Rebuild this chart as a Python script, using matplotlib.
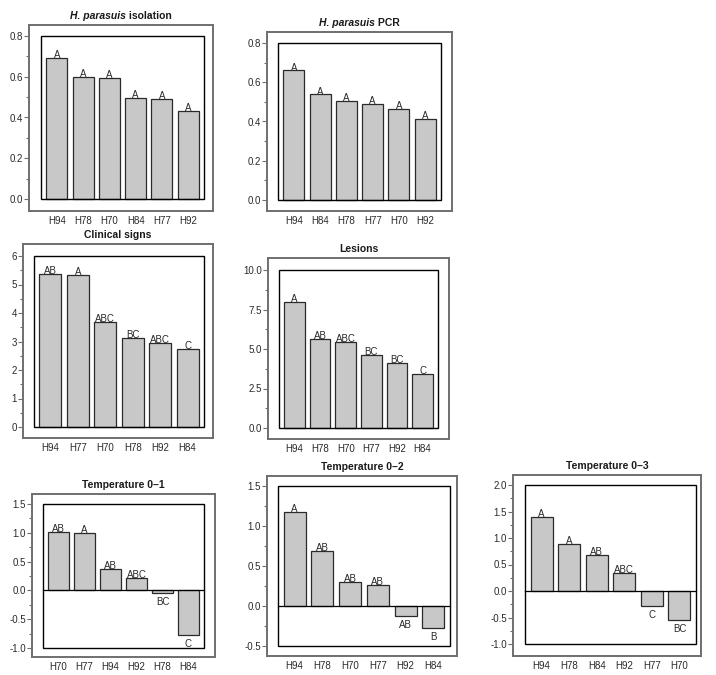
import matplotlib
matplotlib.use('Agg')
import matplotlib.pyplot as plt
from matplotlib.patches import Rectangle
from matplotlib.ticker import MultipleLocator, AutoMinorLocator
from matplotlib.offsetbox import TextArea, HPacker, AnchoredOffsetbox

plt.rcParams['font.family'] = ['Liberation Sans', 'DejaVu Sans']

# ---- data ----
iso_groups = ['H94', 'H78', 'H70', 'H84', 'H77', 'H92']
iso_vals = [0.693, 0.600, 0.592, 0.495, 0.492, 0.434]
iso_letters = ['A', 'A', 'A', 'A', 'A', 'A']

pcr_groups = ['H94', 'H84', 'H78', 'H77', 'H70', 'H92']
pcr_vals = [0.660, 0.538, 0.506, 0.490, 0.463, 0.412]
pcr_letters = ['A', 'A', 'A', 'A', 'A', 'A']

clin_groups = ['H94', 'H77', 'H70', 'H78', 'H92', 'H84']
clin_vals = [5.38, 5.35, 3.68, 3.13, 2.96, 2.73]
clin_letters = ['AB', 'A', 'ABC', 'BC', 'ABC', 'C']

les_groups = ['H94', 'H78', 'H70', 'H77', 'H92', 'H84']
les_vals = [7.96, 5.64, 5.43, 4.63, 4.13, 3.41]
les_letters = ['A', 'AB', 'ABC', 'BC', 'BC', 'C']

t01_groups = ['H70', 'H77', 'H94', 'H92', 'H78', 'H84']
t01_vals = [1.01, 1.005, 0.378, 0.221, -0.047, -0.767]
t01_letters = ['AB', 'A', 'AB', 'ABC', 'BC', 'C']

t02_groups = ['H94', 'H78', 'H70', 'H77', 'H92', 'H84']
t02_vals = [1.175, 0.683, 0.304, 0.263, -0.129, -0.271]
t02_letters = ['A', 'AB', 'AB', 'AB', 'AB', 'B']

t03_groups = ['H94', 'H78', 'H84', 'H92', 'H77', 'H70']
t03_vals = [1.40, 0.884, 0.677, 0.345, -0.282, -0.545]
t03_letters = ['A', 'A', 'AB', 'ABC', 'C', 'BC']

W, H = 716, 675
fig = plt.figure(figsize=(W / 100, H / 100), dpi=100)

FRAME = '#6f6f6f'
BAR = '#c8c8c8'


def panel(outer, inner, groups, vals, letters, ylo, yhi, step, title):
    ol, ot, orr, ob = outer
    il, it, ir, ib = inner
    ax = fig.add_axes([ol / W, 1 - ob / H, (orr - ol) / W, (ob - ot) / H])
    x0, x1 = -0.6, 5.6
    sx = (x1 - x0) / (ir - il)
    sy = (yhi - ylo) / (ib - it)
    ax.set_xlim(x0 - (il - ol) * sx, x1 + (orr - ir) * sx)
    ax.set_ylim(ylo - (ob - ib) * sy, yhi + (it - ot) * sy)

    xs = list(range(len(groups)))
    ax.bar(xs, vals, width=0.8, color=BAR, edgecolor='#2a2a2a', linewidth=0.9, zorder=2)
    ax.add_patch(Rectangle((x0, ylo), x1 - x0, yhi - ylo, fill=False,
                           edgecolor='black', linewidth=1.0, zorder=3))
    if ylo < 0:
        ax.plot([x0, x1], [0, 0], color='black', lw=0.9, zorder=3)

    for x, v, lab in zip(xs, vals, letters):
        if v >= 0:
            ax.annotate(lab, (x, v), xytext=(0, -1.5), textcoords='offset points',
                        ha='center', va='bottom', fontsize=7, color='#2a2a2a', zorder=4)
        else:
            ax.annotate(lab, (x, v), xytext=(0, -3), textcoords='offset points',
                        ha='center', va='top', fontsize=7, color='#2a2a2a', zorder=4)

    ax.set_xticks(xs)
    ax.set_xticklabels(groups)
    ax.yaxis.set_major_locator(MultipleLocator(step))
    ax.yaxis.set_minor_locator(AutoMinorLocator(2))
    ticks = []
    t = ylo
    while t <= yhi + 1e-9:
        ticks.append(round(t, 6))
        t += step
    ax.set_yticks(ticks)
    ax.tick_params(axis='x', length=0, pad=3.5, labelsize=7, labelcolor='#2a2a2a')
    ax.tick_params(axis='y', which='major', direction='out', length=3.5, width=0.8,
                   color=FRAME, pad=1, labelsize=7, labelcolor='#2a2a2a')
    ax.tick_params(axis='y', which='minor', direction='out', length=2.5, width=0.8,
                   color=FRAME)
    for s in ax.spines.values():
        s.set_color(FRAME)
        s.set_linewidth(1.4)

    # title, possibly with an italic species name
    parts = []
    for txt, italic in title:
        parts.append(TextArea(txt, textprops=dict(fontsize=7.5, fontweight='bold',
                                                  fontstyle='italic' if italic else 'normal',
                                                  color='#1a1a1a')))
    box = HPacker(children=parts, align='baseline', pad=0, sep=0)
    anch = AnchoredOffsetbox(loc='lower center', child=box, pad=0, frameon=False,
                             bbox_to_anchor=(0.5, 1.0), bbox_transform=ax.transAxes,
                             borderpad=0.3)
    ax.add_artist(anch)
    return ax


fmt1 = lambda a: a.yaxis.set_major_formatter(matplotlib.ticker.FormatStrFormatter('%.1f'))

a = panel((29, 25, 213, 211), (41, 36, 204, 199), iso_groups, iso_vals, iso_letters,
          0.0, 0.8, 0.2, [('H. parasuis', True), (' isolation', False)])
fmt1(a)
a = panel((267, 32, 452, 211), (278, 43, 441, 200), pcr_groups, pcr_vals, pcr_letters,
          0.0, 0.8, 0.2, [('H. parasuis', True), (' PCR', False)])
fmt1(a)
a = panel((23, 244, 213, 438), (34, 256, 204, 427), clin_groups, clin_vals, clin_letters,
          0, 6, 1, [('Clinical signs', False)])
a.yaxis.set_major_formatter(matplotlib.ticker.FormatStrFormatter('%d'))
a = panel((268, 258, 449, 439), (279, 270, 438, 428), les_groups, les_vals, les_letters,
          0.0, 10.0, 2.5, [('Lesions', False)])
fmt1(a)
a = panel((32, 494, 215, 657), (43, 504, 204, 648), t01_groups, t01_vals, t01_letters,
          -1.0, 1.5, 0.5, [('Temperature 0\u20131', False)])
fmt1(a)
a = panel((267, 476, 457, 656), (278, 486, 450, 646), t02_groups, t02_vals, t02_letters,
          -0.5, 1.5, 0.5, [('Temperature 0\u20132', False)])
fmt1(a)
a = panel((513, 475, 701, 656), (525, 485, 696, 644), t03_groups, t03_vals, t03_letters,
          -1.0, 2.0, 0.5, [('Temperature 0\u20133', False)])
fmt1(a)

fig.savefig('out.png', dpi=100, facecolor='white')
